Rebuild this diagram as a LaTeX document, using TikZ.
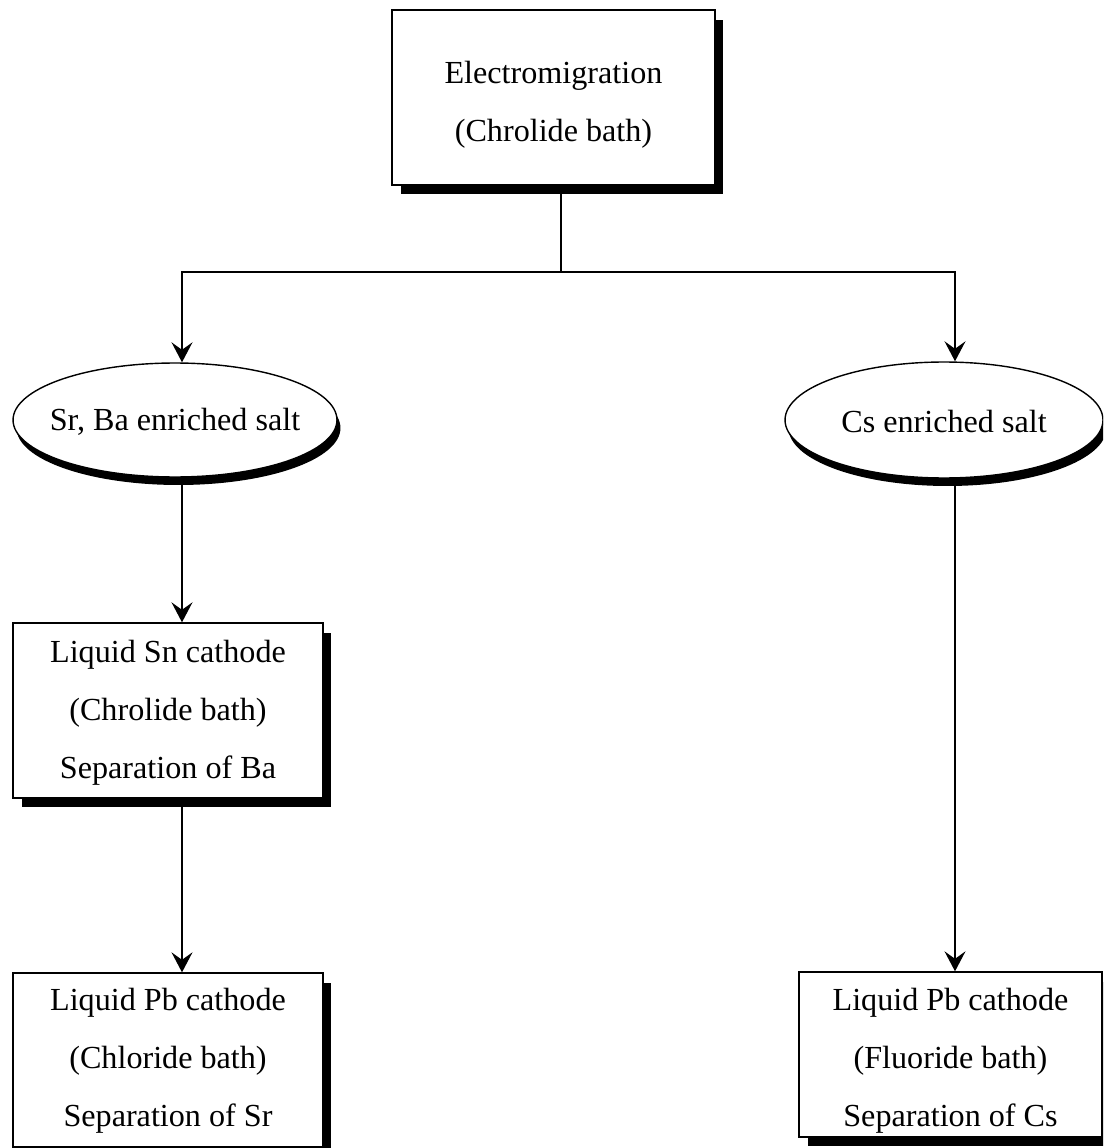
\documentclass[tikz,border=0pt]{standalone}
\usepackage{fontspec}
\setmainfont{Liberation Serif}
\usetikzlibrary{shapes.geometric,shadows,arrows.meta}
\begin{document}
\begin{tikzpicture}[x=0.02cm,y=-0.02cm,
  line width=0.8pt,
  txt/.style={font=\fontsize{18.3}{33}\selectfont, align=center, inner sep=0pt},
  boxnode/.style={draw, fill=white, rectangle, inner sep=0pt,
    drop shadow={shadow xshift=0.17cm, shadow yshift=-0.19cm, fill=black, opacity=1}},
  ellnode/.style={draw, fill=white, ellipse, inner sep=0pt,
    drop shadow={shadow xshift=0.07cm, shadow yshift=-0.16cm, fill=black, opacity=1}},
  arr/.style={-{Stealth[length=0.4cm,width=0.42cm,inset=0.15cm]}}]
\useasboundingbox (0,0) rectangle (1103,1148);
\clip (0,0) rectangle (1103,1148);
\fill[white] (0,0) rectangle (1103,1148);

\node[boxnode, minimum width=6.46cm, minimum height=3.5cm,
  label={[txt, yshift=-0.14cm]center:{Electromigration\\(Chrolide bath)}}] (top) at (553.5,97.5) {};
\node[ellnode, minimum width=6.48cm, minimum height=2.28cm,
  label={[txt, yshift=-0.04cm]center:{Sr, Ba enriched salt}}] (ls) at (175,420) {};
\node[ellnode, minimum width=6.36cm, minimum height=2.32cm,
  label={[txt, yshift=-0.04cm]center:{Cs enriched salt}}] (rs) at (944,420) {};
\node[boxnode, minimum width=6.2cm, minimum height=3.5cm,
  label={[txt, yshift=-0.05cm]center:{Liquid Sn cathode\\(Chrolide bath)\\Separation of Ba}}] (mid) at (168,710.5) {};
\node[boxnode, minimum width=6.2cm, minimum height=3.48cm,
  label={[txt, yshift=-0.02cm]center:{Liquid Pb cathode\\(Chloride bath)\\Separation of Sr}}] (bl) at (168,1060) {};
\node[boxnode, minimum width=6.06cm, minimum height=3.3cm,
  label={[txt, yshift=-0.13cm]center:{Liquid Pb cathode\\(Fluoride bath)\\Separation of Cs}}] (br) at (950.5,1054.5) {};

\coordinate (j) at (561,272);
\coordinate (jl) at (182,272);
\coordinate (jr) at (955,272);

\draw (top.south -| j) -- (j);
\draw[arr] (j) -- (jl) -- (jl |- ls.north);
\draw[arr] (j) -- (jr) -- (jr |- rs.north);
\draw[arr] (ls.south -| jl) -- (mid.north -| jl);
\draw[arr] (mid.south -| jl) -- (bl.north -| jl);
\draw[arr] (rs.south -| jr) -- (br.north -| jr);
\end{tikzpicture}
\end{document}
